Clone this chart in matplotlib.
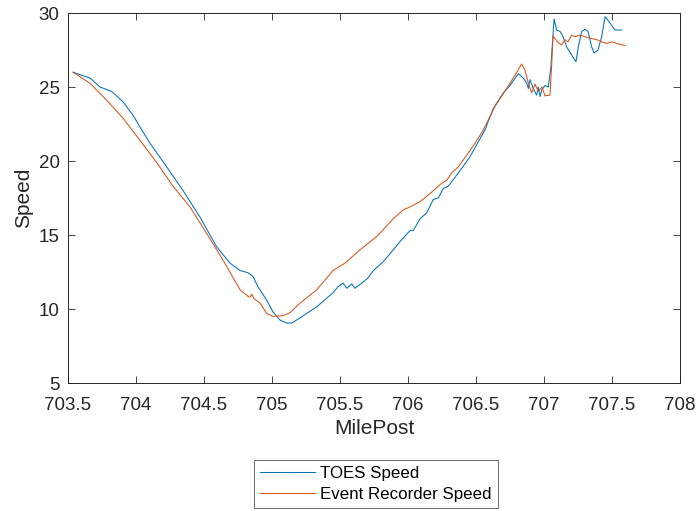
import matplotlib
matplotlib.use("Agg")
import matplotlib.pyplot as plt

# TOES Speed (blue)
toes_mp = [703.537, 703.662, 703.735, 703.821, 703.904, 703.978, 704.029, 704.103,
           704.226, 704.346, 704.471, 704.593, 704.691, 704.765, 704.824, 704.860,
           704.897, 704.961, 705.007, 705.059, 705.108, 705.145, 705.206, 705.329,
           705.449, 705.485, 705.522, 705.551, 705.586, 705.610, 705.660, 705.706,
           705.745, 705.818, 705.892, 705.941, 706.015, 706.039, 706.088, 706.138,
           706.186, 706.223, 706.260, 706.296, 706.346, 706.395, 706.456, 706.517,
           706.566, 706.627, 706.701, 706.750, 706.811, 706.848, 706.873, 706.885,
           706.897, 706.921, 706.946, 706.958, 706.971, 706.983, 707.007, 707.032,
           707.051, 707.059, 707.074, 707.093, 707.118, 707.140, 707.167, 707.204,
           707.235, 707.252, 707.277, 707.301, 707.324, 707.351, 707.368, 707.397,
           707.424, 707.449, 707.471, 707.522, 707.571]
toes_speed = [26.0, 25.6, 25.0, 24.7, 24.0, 23.1, 22.3, 21.2,
              19.6, 18.0, 16.2, 14.2, 13.1, 12.6, 12.45, 12.2,
              11.5, 10.6, 9.8, 9.25, 9.05, 9.05, 9.4, 10.15,
              11.1, 11.5, 11.75, 11.4, 11.7, 11.4, 11.75, 12.1,
              12.6, 13.2, 14.0, 14.55, 15.3, 15.3, 16.1, 16.5,
              17.4, 17.5, 18.15, 18.3, 18.9, 19.5, 20.3, 21.3,
              22.1, 23.55, 24.6, 25.1, 25.9, 25.6, 25.25, 24.9,
              25.5, 24.9, 24.45, 25.0, 24.35, 24.8, 25.1, 25.0,
              26.4, 27.5, 29.6, 28.85, 28.75, 28.4, 27.7, 27.15,
              26.7, 27.7, 28.75, 28.9, 28.75, 27.7, 27.3, 27.5,
              28.4, 29.75, 29.5, 28.85, 28.85]

# Event Recorder Speed (orange)
er_mp = [703.537, 703.662, 703.785, 703.904, 704.029, 704.152, 704.272, 704.397,
         704.520, 704.640, 704.765, 704.824, 704.838, 704.851, 704.868, 704.912,
         704.961, 705.007, 705.081, 705.132, 705.206, 705.329, 705.449, 705.537,
         705.647, 705.770, 705.892, 705.965, 706.015, 706.088, 706.162, 706.248,
         706.285, 706.321, 706.370, 706.432, 706.493, 706.554, 706.640, 706.750,
         706.836, 706.860, 706.885, 706.910, 706.934, 706.958, 706.985, 707.007,
         707.044, 707.057, 707.066, 707.103, 707.130, 707.154, 707.176, 707.204,
         707.228, 707.265, 707.301, 707.338, 707.387, 707.424, 707.461, 707.497,
         707.534, 707.571, 707.596]
er_speed = [26.0, 25.25, 24.1, 22.9, 21.4, 19.9, 18.3, 16.9,
            15.1, 13.3, 11.3, 10.85, 10.8, 11.0, 10.7, 10.4,
            9.7, 9.5, 9.55, 9.75, 10.4, 11.3, 12.6, 13.1,
            14.0, 14.9, 16.1, 16.7, 16.9, 17.25, 17.8, 18.5,
            18.7, 19.2, 19.6, 20.4, 21.2, 22.1, 23.7, 25.25,
            26.55, 26.15, 25.25, 24.6, 25.2, 24.7, 25.0, 24.4,
            24.45, 26.6, 28.45, 28.0, 27.85, 28.2, 28.05, 28.5,
            28.4, 28.5, 28.4, 28.3, 28.2, 28.05, 27.95, 28.05,
            27.95, 27.85, 27.8]

xticks = [703.5, 704, 704.5, 705, 705.5, 706, 706.5, 707, 707.5, 708]
xticklabels = ["703.5", "704", "704.5", "705", "705.5", "706", "706.5", "707", "707.5", "708"]
yticks = [5, 10, 15, 20, 25, 30]

plt.rcParams['font.family'] = ['Liberation Sans', 'DejaVu Sans']
axcol = '#262626'

fig = plt.figure(figsize=(7.0, 5.11), dpi=100)
ax = fig.add_axes([68/700, 128/511, 612/700, 370/511])

ax.plot(toes_mp, toes_speed, color='#0072BD', lw=0.75, label='TOES Speed')
ax.plot(er_mp, er_speed, color='#D95319', lw=0.75, label='Event Recorder Speed')

ax.set_xlim(703.5, 708)
ax.set_ylim(5, 30)
ax.set_xticks(xticks)
ax.set_xticklabels(xticklabels)
ax.set_yticks(yticks)
ax.tick_params(direction='in', length=5, width=0.6, colors=axcol, labelsize=13.5,
               top=True, right=True)
ax.tick_params(axis='x', pad=10)
ax.tick_params(axis='y', pad=6)
for s in ax.spines.values():
    s.set_color(axcol)
    s.set_linewidth(0.7)
ax.set_xlabel('MilePost', fontsize=15, color=axcol, labelpad=4)
ax.set_ylabel('Speed', fontsize=15, color=axcol, labelpad=4)

leg = ax.legend(loc='upper center', bbox_to_anchor=(0.503, -0.208), fontsize=12.2,
                frameon=True, fancybox=False, handlelength=3.25, handletextpad=0.3,
                borderpad=0.35, labelspacing=0.35, borderaxespad=0)
leg.get_frame().set_edgecolor(axcol)
leg.get_frame().set_linewidth(0.6)

fig.savefig('out.png', dpi=100)
